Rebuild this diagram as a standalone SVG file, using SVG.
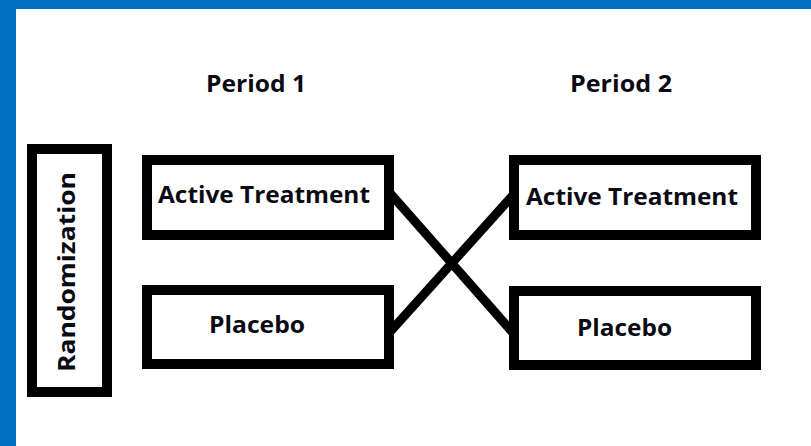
<svg xmlns="http://www.w3.org/2000/svg" width="811" height="446" viewBox="0 0 811 446">
<style>
.box{fill:#fff;stroke:#000;stroke-width:10}
.conn{stroke:#000;stroke-width:9;fill:none;stroke-linecap:butt}
.lbl{font-family:"Open Sans","Liberation Sans",sans-serif;font-weight:700;font-size:24px;fill:#0a0a14}
</style>
<rect x="0" y="0" width="811" height="446" fill="#fff"/>
<rect x="0" y="0" width="811" height="9" fill="#0070C0"/>
<rect x="0" y="0" width="16" height="446" fill="#0070C0"/>
<g id="period1"><text class="lbl" x="206" y="92" textLength="100" lengthAdjust="spacingAndGlyphs">Period 1</text></g>
<g id="period2"><text class="lbl" x="570" y="92" textLength="102" lengthAdjust="spacingAndGlyphs">Period 2</text></g>
<g id="connectors">
<line class="conn" x1="389" y1="192" x2="515" y2="335"/>
<line class="conn" x1="389" y1="333" x2="515" y2="193"/>
</g>
<g id="randomization">
<rect class="box" x="32" y="149" width="75" height="243"/>
<text class="lbl" transform="translate(75,272) rotate(-90)" x="0" y="0" text-anchor="middle" textLength="200" lengthAdjust="spacingAndGlyphs">Randomization</text>
</g>
<g id="active1">
<rect class="box" x="147" y="160" width="242" height="75"/>
<text class="lbl" x="158" y="203" textLength="212" lengthAdjust="spacingAndGlyphs">Active Treatment</text>
</g>
<g id="placebo1">
<rect class="box" x="147" y="290" width="242" height="74"/>
<text class="lbl" x="209" y="333" textLength="96" lengthAdjust="spacingAndGlyphs">Placebo</text>
</g>
<g id="active2">
<rect class="box" x="514" y="160" width="242" height="75"/>
<text class="lbl" x="526" y="205" textLength="212" lengthAdjust="spacingAndGlyphs">Active Treatment</text>
</g>
<g id="placebo2">
<rect class="box" x="514" y="291" width="242" height="74"/>
<text class="lbl" x="577" y="336" textLength="95" lengthAdjust="spacingAndGlyphs">Placebo</text>
</g>
</svg>
